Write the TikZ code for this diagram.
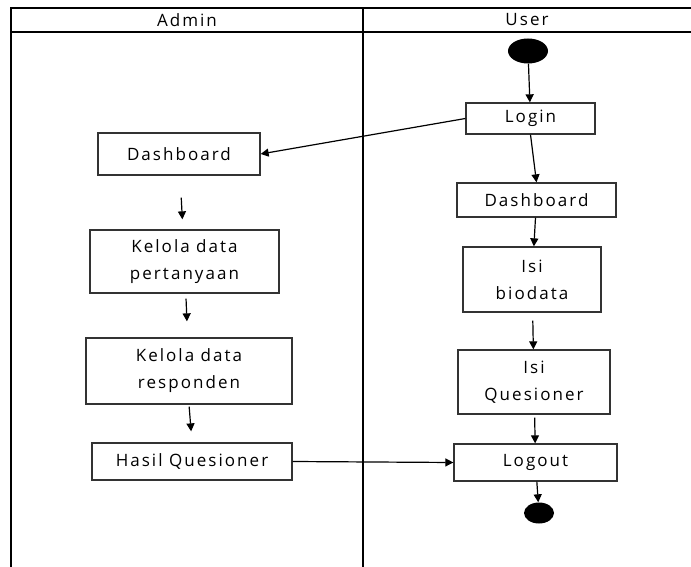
\documentclass[tikz,border=0pt]{standalone}
\usepackage{fontspec}
\setmainfont{Open Sans}[LetterSpace=12]
\usepackage{tikz}
\usetikzlibrary{arrows.meta}
\usetikzlibrary{shapes.geometric}
\usetikzlibrary{positioning}

\tikzset{
	act/.style={draw=black!80, line width=1.3pt, align=center, inner sep=0pt, font=\fontsize{17}{27}\selectfont},
	flw/.style={line width=1.2pt, -{Triangle[length=8pt,width=8pt]}},
	dot/.style={ellipse, fill=black, inner sep=0pt}
}

\begin{document}
\begin{tikzpicture}[x=1pt,y=-1pt]

	\useasboundingbox (0,0) rectangle (691,567);

	\draw[line width=1.3pt] (10,8) -- (691,8);
	\draw[line width=1.3pt] (11,32) -- (691,32);
	\draw[line width=1.3pt] (11,8) -- (11,567);
	\draw[line width=1.3pt] (363,8) -- (363,567);

	\node[font=\fontsize{17}{18}\selectfont] (adm) at (187,20) {Admin};
	\node[font=\fontsize{17}{18}\selectfont] (usr) at (527,20) {User};

	\node[dot, minimum width=40pt, minimum height=25pt] (start) at (528,51) {};

	\node[act, minimum width=129pt, minimum height=31pt] (login) at (530.5,118.5) {Login};
	\node[act, minimum width=162pt, minimum height=42pt] (dsa) at (179,154) {Dashboard};
	\node[act, minimum width=159pt, minimum height=34pt] (dsu) at (536.5,200) {Dashboard};
	\node[act, minimum width=189pt, minimum height=63pt] (kdp) at (184.5,261.5) {Kelola data\\pertanyaan};
	\node[act, minimum width=138pt, minimum height=65pt] (isb) at (532,279.5) {Isi\\biodata};
	\node[act, minimum width=206pt, minimum height=66pt] (kdr) at (189,371) {Kelola data\\responden};
	\node[act, minimum width=152pt, minimum height=64pt] (isq) at (534,382) {Isi\\Quesioner};
	\node[act, minimum width=200pt, minimum height=37pt] (hq) at (192,461.5) {Hasil Quesioner};
	\node[act, minimum width=163pt, minimum height=37pt] (lgo) at (535.5,462.5) {Logout};

	\node[dot, minimum width=30pt, minimum height=21pt] (end) at (539,513) {};

	\draw[flw] (start) -- (login);
	\draw[flw] (login.west) -- (dsa.east);
	\draw[flw] (login.south) -- (dsu.north);
	\draw[flw] (dsu) -- (isb);
	\draw[flw, shorten <=8pt] (isb) -- (isq);
	\draw[flw, shorten <=3pt] (isq) -- (lgo);
	\draw[flw] (lgo) -- (end);

	\draw[flw, shorten <=22pt, shorten >=10pt] (dsa) -- (kdp);
	\draw[flw, shorten <=5pt, shorten >=16pt] (kdp) -- (kdr);
	\draw[flw, shorten <=2pt, shorten >=11pt] (kdr.south) -- (hq.north);
	\draw[flw] (hq.east) -- (lgo.west);

\end{tikzpicture}
\end{document}
